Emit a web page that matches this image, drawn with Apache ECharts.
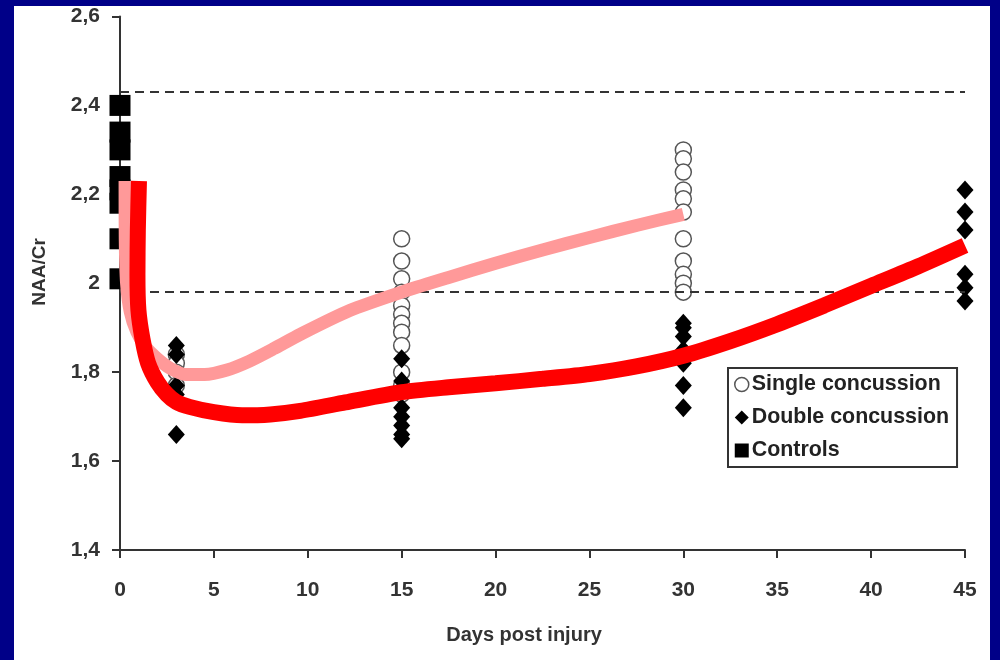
<!DOCTYPE html>
<html>
<head>
<meta charset="utf-8">
<script src="https://cdn.jsdelivr.net/npm/echarts@6/dist/echarts.min.js"></script>
<style>
  html, body { margin: 0; padding: 0; width: 1000px; height: 660px; background: #000088; overflow: hidden; }
  #chart { position: absolute; left: 14px; top: 6px; width: 976px; height: 654px; background: #ffffff; }
</style>
</head>
<body>
<div id="chart"></div>
<script>
// ---- Data ----
const controlsDay = 0;
const controlsValues = [2.40, 2.34, 2.30, 2.24, 2.21, 2.18, 2.10, 2.01];

const singleDay3 = [1.84, 1.82, 1.80, 1.77];
const singleDay15 = [2.10, 2.05, 2.01, 1.98, 1.95, 1.93, 1.91, 1.89, 1.86, 1.80, 1.77, 1.75];
const singleDay30 = [2.30, 2.28, 2.25, 2.21, 2.19, 2.16, 2.10, 2.05, 2.02, 2.00, 1.98];

const doubleDay3 = [1.86, 1.84, 1.77, 1.75, 1.66];
const doubleDay15 = [1.83, 1.78, 1.72, 1.70, 1.68, 1.66, 1.65];
const doubleDay30 = [1.91, 1.90, 1.88, 1.85, 1.82, 1.77, 1.72];
const doubleDay45 = [2.21, 2.16, 2.12, 2.02, 1.99, 1.96];

const singleFitDays   = [0.27, 0.28, 0.35, 0.55, 0.90, 1.40, 2.00, 2.70, 3.50, 4.50, 5.70, 6.90, 8.20, 9.60, 12.2, 15.0, 17.5, 20.0, 22.5, 25.0, 27.5, 30.0];
const singleFitValues = [2.23, 2.10, 2.00, 1.935, 1.89, 1.855, 1.83, 1.808, 1.795, 1.795, 1.805, 1.825, 1.853, 1.885, 1.938, 1.98, 2.013, 2.045, 2.075, 2.103, 2.13, 2.155];

const doubleFitDays   = [1.01, 0.95, 0.93, 0.98, 1.20, 1.50, 2.00, 2.50, 3.00, 3.70, 5.00, 6.50, 8.00, 9.60, 12.0, 15.0, 17.5, 20.0, 22.5, 25.0, 27.5, 30.0, 32.5, 35.0, 37.5, 40.0, 42.5, 45.0];
const doubleFitValues = [2.23, 2.12, 2.02, 1.94, 1.874, 1.82, 1.777, 1.75, 1.733, 1.722, 1.71, 1.703, 1.705, 1.713, 1.732, 1.755, 1.766, 1.775, 1.785, 1.796, 1.813, 1.837, 1.87, 1.908, 1.95, 1.994, 2.038, 2.085];

const normalRangeBounds = [2.43, 1.98];

const xMin = 0, xMax = 45, xStep = 5;
const yMin = 1.4, yMax = 2.6, yStep = 0.2;

// ---- Build series data ----
function pts(day, values) { return values.map(v => [day, v]); }
const singleData = [].concat(pts(3, singleDay3), pts(15, singleDay15), pts(30, singleDay30));
const doubleData = [].concat(pts(3, doubleDay3), pts(15, doubleDay15), pts(30, doubleDay30), pts(45, doubleDay45));
const controlsData = pts(controlsDay, controlsValues);
const singleFit = singleFitDays.map((d, i) => [d, singleFitValues[i]]);
const doubleFit = doubleFitDays.map((d, i) => [d, doubleFitValues[i]]);

const textColor = '#333333';
const font = 'Liberation Sans, Arial, sans-serif';

const chart = echarts.init(document.getElementById('chart'), null, { renderer: 'canvas' });
chart.setOption({
  animation: false,
  backgroundColor: '#ffffff',
  grid: { left: 106, top: 10, width: 845, height: 534, containLabel: false },
  xAxis: {
    type: 'value', min: xMin, max: xMax, interval: xStep,
    axisLine: { show: true, lineStyle: { color: textColor, width: 2 } },
    axisTick: { show: true, length: 8, lineStyle: { color: textColor, width: 2 } },
    axisLabel: { color: textColor, fontSize: 21, fontWeight: 'bold', fontFamily: font, margin: 30 },
    splitLine: { show: false }
  },
  yAxis: {
    type: 'value', min: yMin, max: yMax, interval: yStep,
    axisLine: { show: true, lineStyle: { color: textColor, width: 2 } },
    axisTick: { show: true, length: 8, lineStyle: { color: textColor, width: 2 } },
    axisLabel: {
      color: textColor, fontSize: 21, fontWeight: 'bold', fontFamily: font, margin: 20,
      formatter: v => String(+v.toFixed(1)).replace('.', ',')
    },
    splitLine: { show: false }
  },
  legend: {
    orient: 'vertical', left: 714, top: 362,
    data: [
      { name: 'Single concussion', icon: 'circle', itemStyle: { color: '#fff', borderColor: '#555', borderWidth: 1.5, opacity: 1 } },
      { name: 'Double concussion', icon: 'diamond', itemStyle: { color: '#000', opacity: 1 } },
      { name: 'Controls', icon: 'rect', itemStyle: { color: '#000', opacity: 1 } }
    ],
    itemWidth: 14, itemHeight: 14, itemGap: 12,
    padding: [6, 8, 6, 6],
    borderColor: textColor, borderWidth: 2, backgroundColor: '#fff',
    textStyle: { color: '#222', fontSize: 21.4, fontWeight: 'bold', fontFamily: font, padding: [0, 0, 0, -2] }
  },
  graphic: [
    { type: 'text', x: 26, y: 266, rotation: Math.PI / 2,
      style: { text: 'NAA/Cr', fill: textColor, font: 'bold 19px ' + font, align: 'center', verticalAlign: 'middle' } },
    { type: 'text', x: 510, y: 629,
      style: { text: 'Days post injury', fill: textColor, font: 'bold 20px ' + font, align: 'center', verticalAlign: 'middle' } }
  ],
  series: [
    {
      name: 'Single concussion', type: 'scatter', data: singleData, z: 3,
      symbol: 'circle', symbolSize: 16,
      itemStyle: { color: '#ffffff', borderColor: '#555555', borderWidth: 1.5, opacity: 1 }
    },
    {
      name: 'Double concussion', type: 'scatter', data: doubleData, z: 4,
      symbol: 'diamond', symbolSize: [17, 19],
      itemStyle: { color: '#000000', opacity: 1 }
    },
    {
      name: 'Controls', type: 'scatter', data: controlsData, z: 4,
      symbol: 'rect', symbolSize: 21,
      itemStyle: { color: '#000000', opacity: 1 },
      markLine: {
        silent: true, symbol: 'none', label: { show: false },
        lineStyle: { color: textColor, width: 2, type: [9, 6] },
        data: normalRangeBounds.map(v => ({ yAxis: v }))
      }
    },
    {
      name: 'Single fit', type: 'line', data: singleFit, z: 6, clip: false,
      smooth: 0.25, showSymbol: false, symbol: 'none',
      lineStyle: { color: '#FF9999', width: 13, cap: 'butt' }
    },
    {
      name: 'Double fit', type: 'line', data: doubleFit, z: 7, clip: false,
      smooth: 0.25, showSymbol: false, symbol: 'none',
      lineStyle: { color: '#FF0000', width: 16, cap: 'butt' }
    }
  ]
});
</script>
</body>
</html>
